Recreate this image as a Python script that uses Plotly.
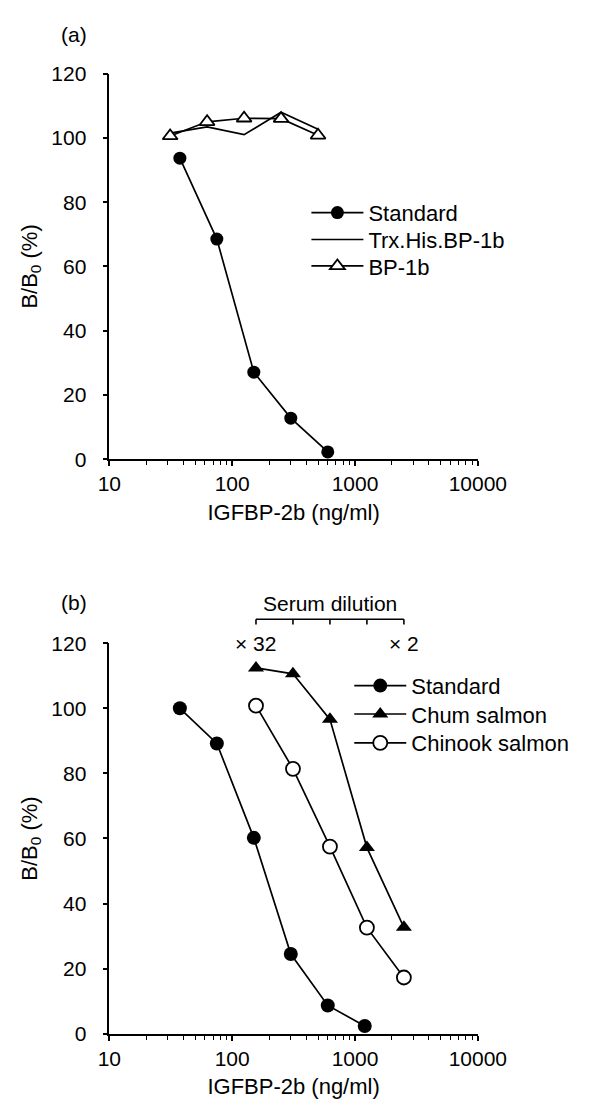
import math
import plotly.graph_objects as go

# ---------------- data ----------------
# panel (a)
std_a_x = [37.5, 75, 150, 300, 600]
std_a_y = [93.7, 68.5, 27.1, 12.8, 2.3]
bp_x = [31.25, 62.5, 125, 250, 500]
trx_y = [101.5, 103.4, 101.0, 108.0, 102.7]
bp_y = [100.6, 105.0, 106.1, 106.0, 100.8]

# panel (b)
std_b_x = [37.5, 75, 150, 300, 600, 1200]
std_b_y = [100.0, 89.2, 60.2, 24.5, 8.7, 2.4]
serum_x = [156.25, 312.5, 625, 1250, 2500]
chum_y = [112.4, 110.6, 96.6, 57.2, 32.7]
chinook_y = [100.8, 81.4, 57.5, 32.6, 17.3]
dilution_labels = ["\u00d7 32", "\u00d7 2"]

x_tickvals = [10, 100, 1000, 10000]
x_ticktext = ["10", "100", "1000", "10000"]
x_minor = [20, 30, 40, 50, 60, 70, 80, 90,
           200, 300, 400, 500, 600, 700, 800, 900,
           2000, 3000, 4000, 5000, 6000, 7000, 8000, 9000]
y_tickvals = [0, 20, 40, 60, 80, 100, 120]

FONT = "Liberation Sans, Arial, sans-serif"
W, H = 600, 1115
LW = 1.7

fig = go.Figure()

# panel (a) traces
fig.add_trace(go.Scatter(x=std_a_x, y=std_a_y, mode="lines+markers", name="Standard",
                         line=dict(color="black", width=LW),
                         marker=dict(symbol="circle", size=13, color="black"),
                         xaxis="x", yaxis="y", legend="legend"))
fig.add_trace(go.Scatter(x=bp_x, y=trx_y, mode="lines", name="Trx.His.BP-1b",
                         line=dict(color="black", width=LW),
                         xaxis="x", yaxis="y", legend="legend2"))
fig.add_trace(go.Scatter(x=bp_x, y=bp_y, mode="lines+markers", name="BP-1b",
                         line=dict(color="black", width=LW),
                         marker=dict(symbol="triangle-up", size=13, color="white",
                                     line=dict(color="black", width=1.8)),
                         xaxis="x", yaxis="y", legend="legend3"))

# panel (b) traces
fig.add_trace(go.Scatter(x=std_b_x, y=std_b_y, mode="lines+markers", name="Standard",
                         line=dict(color="black", width=LW),
                         marker=dict(symbol="circle", size=14, color="black"),
                         xaxis="x2", yaxis="y2", legend="legend4"))
fig.add_trace(go.Scatter(x=serum_x, y=chum_y, mode="lines+markers", name="Chum salmon",
                         line=dict(color="black", width=LW),
                         marker=dict(symbol="triangle-up", size=14, color="black"),
                         xaxis="x2", yaxis="y2", legend="legend5"))
fig.add_trace(go.Scatter(x=serum_x, y=chinook_y, mode="lines+markers", name="Chinook salmon",
                         line=dict(color="black", width=LW),
                         marker=dict(symbol="circle", size=14, color="white",
                                     line=dict(color="black", width=1.8)),
                         xaxis="x2", yaxis="y2", legend="legend6"))

xdom = [104.5 / W, 500 / W]
ydom_a = [1 - 456.7 / H, 1 - 62.9 / H]
ydom_b = [1 - 1043.3 / H, 1 - 644.5 / H]

def xaxis_cfg(anchor):
    return dict(type="log", range=[1, 4], domain=xdom, anchor=anchor,
                showline=True, linecolor="black", linewidth=1.6,
                ticks="outside", ticklen=5, tickwidth=1.6, tickcolor="black",
                tickvals=x_tickvals, ticktext=x_ticktext,
                minor=dict(tickvals=x_minor, ticks="outside", ticklen=4,
                           tickwidth=1.4, tickcolor="black", showgrid=False),
                showgrid=False, zeroline=False, ticklabelstandoff=0,
                tickfont=dict(family=FONT, size=21, color="black"),
                title=dict(text="IGFBP-2b (ng/ml)", standoff=10,
                           font=dict(family=FONT, size=22, color="black")))

def yaxis_cfg(anchor, dom):
    return dict(range=[0, 120], domain=dom, anchor=anchor,
                showline=True, linecolor="black", linewidth=1.6,
                ticks="outside", ticklen=5, tickwidth=1.6, tickcolor="black",
                tickvals=y_tickvals, showgrid=False, zeroline=False,
                ticklabelstandoff=12,
                tickfont=dict(family=FONT, size=21, color="black"),
                title=dict(text="B/B<sub>0</sub> (%)", standoff=8,
                           font=dict(family=FONT, size=22, color="black")))

legend_common = dict(font=dict(family=FONT, size=22, color="black"),
                     bgcolor="rgba(0,0,0,0)", itemwidth=52, tracegroupgap=0,
                     xanchor="left", yanchor="middle", itemclick=False,
                     borderwidth=0)

# serum dilution bracket (shapes)
shapes = []
y_line = 1 - 620 / H
y_tick = 1 - 625.5 / H
shapes.append(dict(type="line", xref="x2", yref="paper",
                   x0=serum_x[0], x1=serum_x[-1], y0=y_line, y1=y_line,
                   line=dict(color="black", width=1.6)))
for sx in serum_x:
    shapes.append(dict(type="line", xref="x2", yref="paper",
                       x0=sx, x1=sx, y0=y_line, y1=y_tick,
                       line=dict(color="black", width=1.6)))

annotations = [
    dict(text="(a)", x=67 / W, y=1 - 23 / H, xref="paper", yref="paper",
         showarrow=False, xanchor="center", yanchor="middle",
         font=dict(family=FONT, size=21, color="black")),
    dict(text="(b)", x=67 / W, y=1 - 603 / H, xref="paper", yref="paper",
         showarrow=False, xanchor="center", yanchor="middle",
         font=dict(family=FONT, size=21, color="black")),
    dict(text="Serum dilution", x=math.log10(serum_x[2]), y=1 - 604 / H,
         xref="x2", yref="paper", showarrow=False, xanchor="center", yanchor="middle",
         font=dict(family=FONT, size=21, color="black")),
    dict(text=dilution_labels[0], x=math.log10(serum_x[0]), y=1 - 645 / H,
         xref="x2", yref="paper", showarrow=False, xanchor="center", yanchor="middle",
         font=dict(family=FONT, size=21, color="black")),
    dict(text=dilution_labels[1], x=math.log10(serum_x[-1]), y=1 - 645 / H,
         xref="x2", yref="paper", showarrow=False, xanchor="center", yanchor="middle",
         font=dict(family=FONT, size=21, color="black")),
]

top_rows = [205, 232.5, 259.5]
bot_rows = [688, 717, 746.5]
legends = {}
for i, r in enumerate(top_rows):
    key = "legend" if i == 0 else "legend%d" % (i + 1)
    legends[key] = dict(x=316 / W, y=1 - r / H, **legend_common)
for i, r in enumerate(bot_rows):
    key = "legend%d" % (i + 4)
    legends[key] = dict(x=362 / W, y=1 - r / H, **legend_common)

fig.update_layout(
    width=W, height=H,
    margin=dict(l=0, r=0, t=0, b=0),
    paper_bgcolor="white", plot_bgcolor="white",
    font=dict(family=FONT, color="black"),
    xaxis=xaxis_cfg("y"),
    yaxis=yaxis_cfg("x", ydom_a),
    xaxis2=xaxis_cfg("y2"),
    yaxis2=yaxis_cfg("x2", ydom_b),
    shapes=shapes,
    annotations=annotations,
    showlegend=True,
    **legends,
)

fig.write_html("out.html")
